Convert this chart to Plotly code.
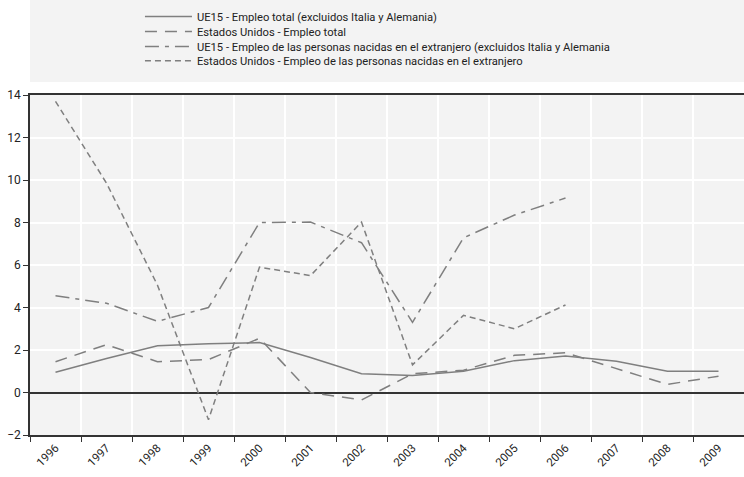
import plotly.graph_objects as go

years = ["1996", "1997", "1998", "1999", "2000", "2001", "2002",
         "2003", "2004", "2005", "2006", "2007", "2008", "2009"]

ue15_total = [0.95, 1.6, 2.2, 2.3, 2.35, 1.65, 0.88, 0.8, 1.0, 1.5, 1.72, 1.47, 1.0, 1.0]
eeuu_total = [1.45, 2.25, 1.45, 1.55, 2.55, 0.0, -0.35, 0.88, 1.05, 1.75, 1.87, 1.12, 0.38, 0.77]
ue15_extr = [4.55, 4.2, 3.35, 4.0, 8.0, 8.02, 7.05, 3.3, 7.28, 8.35, 9.15]
eeuu_extr = [13.7, 9.85, 5.05, -1.28, 5.9, 5.5, 8.02, 1.3, 3.63, 3.0, 4.12]

names = [
    "UE15 - Empleo total (excluidos Italia y Alemania)",
    "Estados Unidos - Empleo total",
    "UE15 - Empleo de las personas nacidas en el extranjero (excluidos Italia y Alemania",
    "Estados Unidos - Empleo de las personas nacidas en el extranjero",
]

gris = "#7f7f7f"
font = "Roboto, Liberation Sans, sans-serif"

fig = go.Figure()
series = [
    (ue15_total, "solid"),
    (eeuu_total, "12px,8px"),
    (ue15_extr, "14px,6px,4px,6px"),
    (eeuu_extr, "6px,4px"),
]
# una leyenda por serie para poder ajustar el interlineado
leg_ids = ["legend", "legend2", "legend3", "legend4"]
leg_y = [1.231, 1.187, 1.143, 1.101]
for (vals, dash), name, lid in zip(series, names, leg_ids):
    fig.add_trace(go.Scatter(
        x=years[:len(vals)], y=vals, mode="lines", name=name, legend=lid,
        line=dict(color=gris, width=1.5, dash=dash),
    ))

# fondo gris de la leyenda
fig.add_shape(type="rect", xref="paper", yref="paper",
              x0=0, x1=1, y0=1.038, y1=1.3, line=dict(width=0),
              fillcolor="#f3f3f3", layer="below")

legends = {}
for lid, ly in zip(leg_ids, leg_y):
    legends[lid] = dict(x=0.154, y=ly, xanchor="left", yanchor="middle",
                        bgcolor="rgba(0,0,0,0)", font=dict(size=11.2),
                        itemwidth=47)

fig.update_layout(
    width=744, height=477,
    margin=dict(l=30, r=0, t=95, b=42),
    paper_bgcolor="white", plot_bgcolor="#f3f3f3",
    font=dict(family=font, size=12, color="#222"),
    showlegend=True,
    xaxis=dict(type="category", range=[-0.5, 13.5], tickson="boundaries",
               showgrid=True, gridcolor="white", gridwidth=1.5,
               showline=True, linecolor="#333", linewidth=1.5, mirror=True,
               ticks="outside", ticklen=5, tickcolor="#333",
               tickangle=-45, tickfont=dict(size=11.5)),
    yaxis=dict(range=[-2, 14], dtick=2, showgrid=True, gridcolor="white", gridwidth=1.5,
               zeroline=True, zerolinecolor="#333", zerolinewidth=1.5,
               showline=True, linecolor="#333", linewidth=1.5,
               ticks="outside", ticklen=5, tickcolor="#333",
               tickfont=dict(size=12)),
    **legends,
)

fig.write_html("out.html", config={"displayModeBar": False},
               post_script="document.body.style.margin='0';")
